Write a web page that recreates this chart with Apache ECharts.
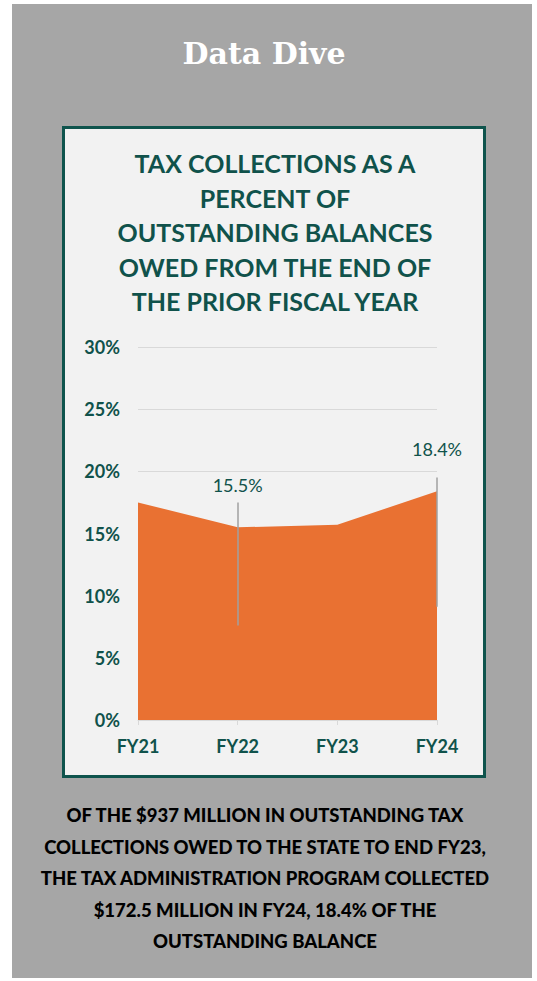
<!DOCTYPE html>
<html>
<head>
<meta charset="utf-8">
<script src="https://cdn.jsdelivr.net/npm/echarts@6/dist/echarts.min.js"></script>
<style>
html,body{margin:0;padding:0;background:#ffffff;}
#chart{width:537px;height:981px;}
</style>
</head>
<body>
<div id="chart"></div>
<script>
const categories = ['FY21', 'FY22', 'FY23', 'FY24'];
const values = [17.5, 15.5, 15.7, 18.4];
const labeledCategories = ['FY22', 'FY24'];
const yMin = 0, yMax = 30, yInterval = 5;
// leader lines: [category, from value, to value]
const leaderLines = [['FY22', 17.5, 7.6], ['FY24', 19.5, 9.1]];

const pageTitle = 'Data Dive';
const chartTitle = 'TAX COLLECTIONS AS A\nPERCENT OF\nOUTSTANDING BALANCES\nOWED FROM THE END OF\nTHE PRIOR FISCAL YEAR';
const footnote = 'OF THE $937 MILLION IN OUTSTANDING TAX\nCOLLECTIONS OWED TO THE STATE TO END FY23,\nTHE TAX ADMINISTRATION PROGRAM COLLECTED\n$172.5 MILLION IN FY24, 18.4% OF THE\nOUTSTANDING BALANCE';

const teal = '#10524b';
const orange = '#e97132';
const font = 'Lato';

const chart = echarts.init(document.getElementById('chart'), null, {renderer: 'svg'});
chart.setOption({
  animation: false,
  backgroundColor: '#ffffff',
  graphic: [
    {type: 'rect', z: -10, shape: {x: 12, y: 4, width: 520, height: 974}, style: {fill: '#a6a6a6'}},
    {type: 'rect', z: -9, shape: {x: 63.5, y: 127.5, width: 421, height: 649}, style: {fill: '#f2f2f2', stroke: '#0f544d', lineWidth: 3}},
    {type: 'text', z: 5, style: {text: pageTitle, x: 264, y: 53, textAlign: 'center', textVerticalAlign: 'middle', font: 'bold 30px "DejaVu Serif"', fill: '#ffffff'}},
    {type: 'text', z: 5, style: {text: chartTitle, x: 275, y: 232, textAlign: 'center', textVerticalAlign: 'middle', font: 'bold 25px ' + font, lineHeight: 34.5, fill: teal}},
    {type: 'text', z: 5, style: {text: footnote, x: 265, y: 878, textAlign: 'center', textVerticalAlign: 'middle', font: '900 18.5px ' + font, lineHeight: 31.5, fill: '#000000'}}
  ],
  grid: {left: 138, right: 100, top: 347, bottom: 261},
  xAxis: {
    type: 'category',
    data: categories,
    boundaryGap: false,
    axisLine: {show: true, lineStyle: {color: '#d9d9d9', width: 1}},
    axisTick: {show: true, alignWithLabel: true, length: 5, lineStyle: {color: '#d9d9d9'}},
    axisLabel: {color: teal, fontFamily: font, fontWeight: 'bold', fontSize: 18, margin: 17}
  },
  yAxis: {
    type: 'value',
    min: yMin, max: yMax, interval: yInterval,
    axisLine: {show: false},
    axisTick: {show: false},
    splitLine: {lineStyle: {color: '#d9d9d9', width: 1}},
    axisLabel: {formatter: '{value}%', color: teal, fontFamily: font, fontWeight: 'bold', fontSize: 18, margin: 18}
  },
  series: [{
    type: 'line',
    data: values.map((v, i) => ({
      value: v,
      label: {show: labeledCategories.includes(categories[i])}
    })),
    showSymbol: true,
    showAllSymbol: true,
    symbol: 'circle',
    symbolSize: 1,
    itemStyle: {color: 'rgba(0,0,0,0)', borderWidth: 0},
    lineStyle: {width: 0},
    areaStyle: {color: orange, opacity: 1},
    label: {
      show: false,
      position: 'top', distance: 33,
      formatter: p => p.value.toFixed(1) + '%',
      color: teal, fontFamily: font, fontSize: 18
    },
    markLine: {
      silent: true,
      symbol: 'none',
      label: {show: false},
      lineStyle: {color: '#a0a0a0', width: 1.5, type: 'solid'},
      data: leaderLines.map(l => [{coord: [l[0], l[1]]}, {coord: [l[0], l[2]]}])
    }
  }]
});
</script>
</body>
</html>
